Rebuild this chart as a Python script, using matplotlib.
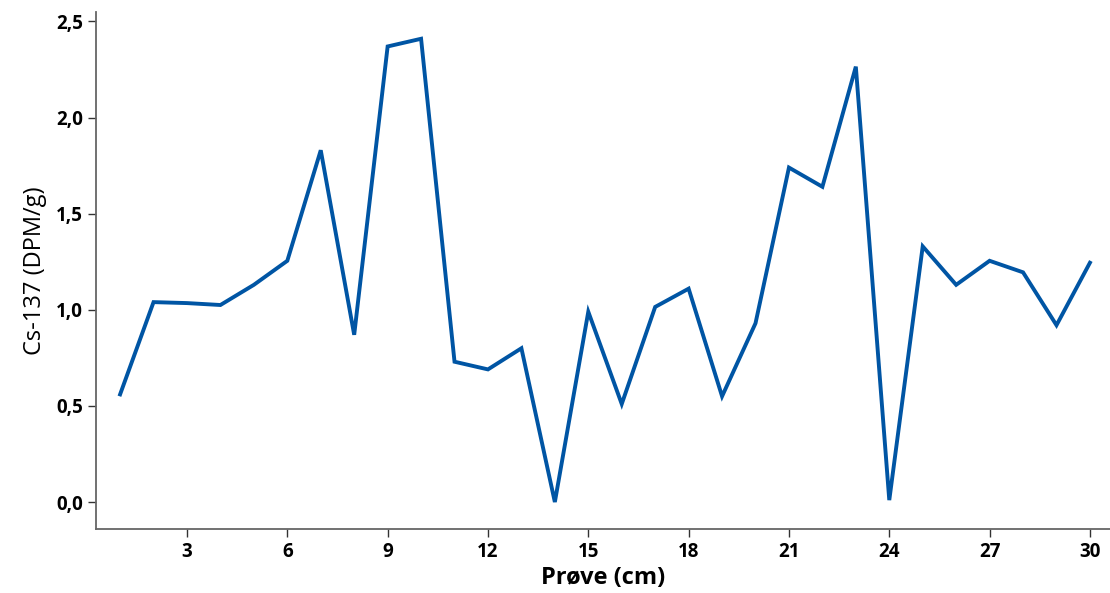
import matplotlib
matplotlib.use("Agg")
import matplotlib.pyplot as plt
from matplotlib.ticker import FuncFormatter

# Cs-137 aktivitet per prøve
prove = list(range(1, 31))
cs137 = [0.56, 1.04, 1.035, 1.025, 1.13, 1.255, 1.83, 0.87, 2.37, 2.41,
         0.73, 0.69, 0.80, 0.0, 0.99, 0.51, 1.015, 1.11, 0.55, 0.93,
         1.74, 1.64, 2.265, 0.01, 1.33, 1.13, 1.255, 1.195, 0.92, 1.245]
x_ticks = [3, 6, 9, 12, 15, 18, 21, 24, 27, 30]
y_ticks = [0.0, 0.5, 1.0, 1.5, 2.0, 2.5]

plt.rcParams['font.family'] = ['Open Sans', 'DejaVu Sans']

fig = plt.figure(figsize=(11.1, 5.93), dpi=100)
ax = fig.add_axes([0.0865, 0.108, 0.9135, 0.872])

ax.plot(prove, cs137, color='#0055a4', linewidth=2.8, solid_joinstyle='miter')

ax.set_xlim(0.28, 30.6)
ax.set_ylim(-0.14, 2.55)
ax.set_xticks(x_ticks)
ax.set_yticks(y_ticks)
ax.yaxis.set_major_formatter(FuncFormatter(lambda v, p: f"{v:.1f}".replace('.', ',')))

for side in ['top', 'right']:
    ax.spines[side].set_visible(False)
for side in ['left', 'bottom']:
    ax.spines[side].set_color('#666666')
    ax.spines[side].set_linewidth(1.3)

ax.tick_params(colors='#333333', labelcolor='black', labelsize=13.5, width=1, length=6)
for lbl in ax.get_xticklabels() + ax.get_yticklabels():
    lbl.set_fontweight('bold')

ax.set_xlabel('Prøve (cm)', fontsize=17, fontweight='bold', labelpad=3)
ax.set_ylabel('Cs-137 (DPM/g)', fontsize=17, fontweight='medium', labelpad=6)

fig.savefig('out.png', dpi=100)
